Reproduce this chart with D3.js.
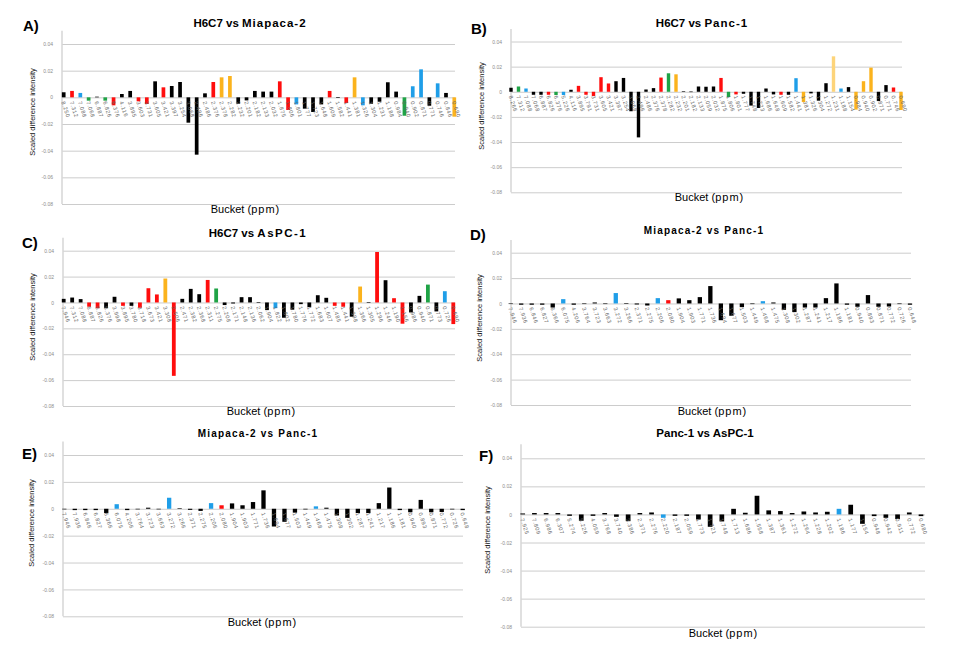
<!DOCTYPE html>
<html>
<head>
<meta charset="utf-8">
<script src="https://cdn.jsdelivr.net/npm/d3@7"></script>
<style>
  html, body { margin: 0; padding: 0; background: #ffffff; }
  svg { display: block; font-family: "Liberation Sans", Arial, sans-serif; }
</style>
</head>
<body>
<script>
// ---------------- DATA ----------------
const yTickValues = [0.04, 0.02, 0, -0.02, -0.04, -0.06, -0.08];
const yTickLabels = ["0.04", "0.02", "0", "-0.02", "-0.04", "-0.06", "-0.08"];

// class codes: k = black, r = red, b = blue, g = green, o = orange, y = pale orange
// A) H6C7 vs Miapaca-2
const aBuckets = ["8.250","7.312","7.088","7.068","6.887","6.826","6.376","4.116","3.895","3.603","3.731","3.605","3.421","3.397","3.254","3.068","2.496","2.486","2.376","2.378","2.282","2.232","2.201","2.182","2.133","2.032","1.875","1.806","1.801","1.777","1.723","1.648","1.609","1.582","1.441","1.381","1.326","1.304","1.231","1.188","0.984","0.940","0.902","0.871","0.771","0.746","0.846","0.690"];
const aValues = [0.0038,0.0048,0.0033,-0.0025,0.0005,-0.0025,-0.006,0.0025,0.0048,-0.003,-0.005,0.012,0.0075,0.0085,0.0115,-0.019,-0.043,0.003,0.0115,0.015,0.016,-0.0048,-0.0023,0.0048,0.0043,0.0043,0.012,-0.0095,-0.0053,-0.0085,-0.011,-0.0053,0.0048,-0.0005,-0.0043,0.015,-0.006,-0.0048,-0.0033,0.0113,0.0043,-0.0138,0.0083,0.021,-0.0063,0.0105,0.0033,-0.0145];
const aClasses = ["k","r","b","g","k","g","r","k","k","r","r","k","r","k","k","k","k","k","r","o","o","k","k","k","k","k","r","r","b","k","k","k","r","k","r","o","b","k","k","k","k","g","b","b","k","b","k","o"];

// B) H6C7 vs Panc-1
const bBuckets = ["8.266","7.312","7.088","7.068","6.887","6.826","6.376","5.226","4.116","3.895","3.791","3.731","3.605","3.421","3.397","3.254","3.068","2.496","2.486","2.376","2.378","2.282","2.232","2.201","2.182","2.133","2.059","2.032","1.875","1.806","1.801","1.777","1.748","1.723","1.686","1.648","1.609","1.582","1.441","1.381","1.326","1.304","1.272","1.231","1.188","1.154","0.984","0.940","0.902","0.871","0.771","0.746","0.690"];
const bValues = [0.0032,0.0042,0.0026,-0.0024,-0.0024,-0.0024,-0.0026,-0.0026,0.0016,0.0047,-0.0024,-0.0034,0.0116,0.0066,0.0084,0.011,-0.0155,-0.0363,0.0018,0.0029,0.0113,0.0147,0.0139,0.0003,0.0002,0.0042,0.004,0.0042,0.011,-0.0042,-0.0021,-0.0016,-0.011,-0.0129,0.0026,-0.0021,-0.0024,-0.0024,0.0108,-0.0082,-0.0013,-0.0071,0.0068,0.0282,0.0026,0.0037,-0.0142,0.0084,0.0192,-0.0074,0.0053,0.0034,-0.0145];
const bClasses = ["k","g","b","k","k","r","g","b","k","r","r","r","r","r","k","k","k","k","k","k","r","g","o","k","k","k","k","k","r","g","r","k","k","k","k","k","r","k","b","o","k","k","k","y","b","k","o","o","o","k","k","r","o"];

// C) H6C7 vs AsPC-1
const cBuckets = ["7.946","7.312","7.088","6.887","6.826","6.376","3.998","3.895","3.780","3.718","3.673","3.421","3.308","2.506","2.471","2.382","2.368","2.311","2.275","2.208","2.171","2.148","2.136","2.062","1.904","1.822","1.802","1.780","1.776","1.772","1.683","1.607","1.485","1.441","1.398","1.366","1.305","1.296","1.246","1.190","1.156","0.986","0.940","0.871","0.773","0.726","0.690"];
const cValues = [0.0028,0.0038,0.0026,-0.0033,-0.0044,-0.0044,0.0044,-0.0026,-0.0026,-0.0041,0.011,0.0062,0.0185,-0.0567,0.0028,0.0105,0.0064,0.0174,0.0108,-0.002,-0.0008,0.0041,0.0041,0.0003,-0.0059,-0.0044,-0.0118,-0.0056,-0.0013,-0.0036,0.0056,0.0036,-0.0026,-0.0033,-0.011,0.0123,0.0002,0.039,0.0172,0.0033,-0.0164,-0.0077,0.0051,0.0138,-0.0069,0.0087,-0.0167];
const cClasses = ["k","k","k","r","r","k","k","r","k","r","r","r","o","r","k","k","k","r","g","k","k","k","k","k","k","b","k","k","k","k","k","k","r","r","k","o","k","r","k","r","r","k","k","g","k","b","r"];

// D) and E) Miapaca-2 vs Panc-1
const dBuckets = ["7.946","7.936","6.846","6.827","6.366","6.075","4.206","3.764","3.723","3.663","3.272","3.266","2.371","2.275","2.206","2.080","1.904","1.903","1.771","1.736","1.694","1.677","1.503","1.449","1.468","1.475","1.308","1.302","1.287","1.241","1.217","1.186","1.181","0.940","0.893","0.871","0.772","0.726","0.648"];
const dValues = [-0.0003,-0.001,-0.001,-0.001,-0.0032,0.0034,-0.001,0,0.0008,-0.0004,0.0082,0.0003,-0.0008,-0.0016,0.0042,0.0026,0.004,0.0026,0.005,0.0137,-0.0132,-0.0097,-0.0029,-0.0005,0.0018,0.0008,-0.005,-0.0068,-0.0032,-0.0032,0.0042,0.0158,-0.001,-0.0026,0.0066,-0.0026,-0.0024,-0.0005,-0.001];
const dClasses = ["k","k","k","k","k","b","k","k","k","k","b","k","k","k","b","r","k","k","k","k","k","k","k","k","b","k","k","k","k","k","k","k","k","k","k","k","k","k","k"];

// F) Panc-1 vs AsPC-1
const fBuckets = ["7.925","7.809","6.986","6.307","5.274","5.226","4.059","3.768","3.740","3.386","2.371","2.276","2.220","2.187","2.059","1.773","1.721","1.748","1.713","1.686","1.558","1.387","1.361","1.272","1.264","1.228","1.202","1.186","1.177","1.154","0.948","0.942","0.911","0.772","0.680"];
const fValues = [0.0007,0.001,0.001,0.001,-0.001,-0.0045,-0.001,0.001,-0.0017,-0.0048,0.001,0.0014,-0.0024,-0.001,-0.001,-0.0036,-0.0088,-0.005,0.004,0.0012,0.0133,0.0029,0.0024,0.001,0.0021,0.0014,0.0019,0.004,0.0069,-0.0067,-0.0012,-0.0024,-0.0033,0.0014,-0.0012];
const fClasses = ["k","k","k","k","k","k","k","k","k","k","k","k","b","k","k","k","k","k","k","k","k","k","k","k","k","k","k","b","k","k","k","k","k","k","k"];

const classColor = { k: "#000000", r: "#ff0d0d", b: "#1f9ee8", g: "#1fa346", o: "#fbb31d", y: "#fdd47a" };

// ---------------- LAYOUT ----------------
const panels = [
  { letter: "A)", lx: 23, ly: 31, title: [["H6C7 vs ", 0], ["Miapaca-2", 1]], tfs: 11.5, tx: 250, ty: 27,
    axisX: 62, right: 455, y04: 44, y08: 204, xFirst: 63.7, xLast: 454.3, barW: 3.7,
    ytx: 32, yty: 112, xtx: 245, xty: 213, buckets: aBuckets, values: aValues, classes: aClasses },
  { letter: "B)", lx: 471, ly: 34, title: [["H6C7 vs ", 0], ["Panc-1", 1]], tfs: 11.5, tx: 702, ty: 27,
    axisX: 511, right: 902, y04: 41.5, y08: 192.3, xFirst: 511, xLast: 901, barW: 3.4,
    ytx: 481, yty: 106, xtx: 709, xty: 201, buckets: bBuckets, values: bValues, classes: bClasses },
  { letter: "C)", lx: 22, ly: 248, title: [["H6C7 vs ", 0], ["AsPC-1", 1.5]], tfs: 11.5, tx: 258, ty: 237,
    axisX: 63, right: 455, y04: 250.7, y08: 406, xFirst: 63.7, xLast: 453.3, barW: 3.8,
    ytx: 32, yty: 317, xtx: 261, xty: 415, buckets: cBuckets, values: cValues, classes: cClasses },
  { letter: "D)", lx: 470, ly: 240, title: [["Miapaca-2 vs Panc-1", 1.2]], tfs: 10, tx: 704, ty: 234,
    axisX: 511, right: 911, y04: 252.7, y08: 405, xFirst: 510.7, xLast: 910, barW: 4.3,
    ytx: 479, yty: 318, xtx: 712, xty: 415, buckets: dBuckets, values: dValues, classes: dClasses },
  { letter: "E)", lx: 22, ly: 459, title: [["Miapaca-2 vs Panc-1", 1.2]], tfs: 10, tx: 258, ty: 437,
    axisX: 63, right: 463, y04: 455, y08: 616.3, xFirst: 64.3, xLast: 462.7, barW: 4.3,
    ytx: 31, yty: 523, xtx: 262, xty: 626, buckets: dBuckets, values: dValues, classes: dClasses },
  { letter: "F)", lx: 479, ly: 461, title: [["Panc-1 vs AsPC-1", 0]], tfs: 11.5, tx: 705, ty: 437,
    axisX: 521, right: 925, y04: 458.3, y08: 626.7, xFirst: 522.7, xLast: 921, barW: 4.7,
    ytx: 487, yty: 530, xtx: 723, xty: 637, buckets: fBuckets, values: fValues, classes: fClasses }
];

const svg = d3.select("body").append("svg").attr("width", 962).attr("height", 646);

function drawPanel(p) {
  const g = svg.append("g");
  const perUnit = (p.y08 - p.y04) / 0.12;
  const y = d3.scaleLinear().domain([-0.08, 0.05]).range([p.y08, p.y08 - 0.13 * perUnit]);
  const x = d3.scalePoint().domain(p.buckets.map((d, i) => i)).range([p.xFirst, p.xLast]);
  const y0 = y(0);

  // gridlines + y tick labels
  const ax = g.append("g").attr("transform", `translate(${p.axisX},0)`)
    .call(d3.axisLeft(y).tickValues(yTickValues).tickFormat((d, i) => yTickLabels[i])
      .tickSize(-(p.right - p.axisX)).tickPadding(9));
  ax.select(".domain").remove();
  ax.selectAll(".tick line").attr("stroke", "#cccccc").attr("stroke-width", 1);
  ax.selectAll(".tick text").attr("font-size", 5).attr("fill", "#8c8c8c")
    .attr("font-family", "\"Liberation Sans\", Arial, sans-serif");

  // vertical axis line
  g.append("line").attr("x1", p.axisX).attr("x2", p.axisX)
    .attr("y1", y(0.05)).attr("y2", y(-0.08))
    .attr("stroke", "#d6d6d6").attr("stroke-width", 1.5);

  // bars
  g.append("g").selectAll("rect").data(p.values).join("rect")
    .attr("x", (d, i) => x(i) - p.barW / 2)
    .attr("width", p.barW)
    .attr("y", d => Math.min(y(d), y0))
    .attr("height", d => Math.max(0.6, Math.abs(y(d) - y0)))
    .attr("fill", (d, i) => classColor[p.classes[i]]);

  // category labels
  const bx = g.append("g").attr("transform", `translate(0,${y0})`)
    .call(d3.axisBottom(x).tickFormat(i => p.buckets[i]).tickSize(0));
  bx.select(".domain").remove();
  bx.selectAll(".tick text")
    .attr("font-size", 5.5).attr("fill", "#666")
    .attr("font-family", "\"Liberation Sans\", Arial, sans-serif")
    .attr("letter-spacing", 0.6)
    .attr("text-anchor", "start")
    .attr("x", 0).attr("y", 0).attr("dy", "0.35em")
    .attr("transform", "translate(-1,4) rotate(72)");

  // panel letter
  g.append("text").attr("x", p.lx).attr("y", p.ly).attr("font-size", 15).attr("font-weight", "bold")
    .attr("fill", "#000").text(p.letter);

  // title
  const t = g.append("text").attr("x", p.tx).attr("y", p.ty).attr("text-anchor", "middle")
    .attr("font-size", p.tfs).attr("font-weight", "bold").attr("fill", "#000");
  p.title.forEach(([s, ls]) => t.append("tspan").attr("letter-spacing", ls).text(s));

  // y-axis title
  g.append("text").attr("transform", `translate(${p.ytx},${p.yty}) rotate(-90)`)
    .attr("text-anchor", "middle").attr("dy", "0.35em").attr("font-size", 7.5).attr("fill", "#111")
    .text("Scaled difference intensity");

  // x-axis title
  const xt = g.append("text").attr("x", p.xtx).attr("y", p.xty).attr("text-anchor", "middle")
    .attr("font-size", 11).attr("fill", "#000");
  xt.append("tspan").text("Bucket (");
  xt.append("tspan").attr("letter-spacing", 1).text("ppm");
  xt.append("tspan").text(")");
}

panels.forEach(drawPanel);
</script>
</body>
</html>
